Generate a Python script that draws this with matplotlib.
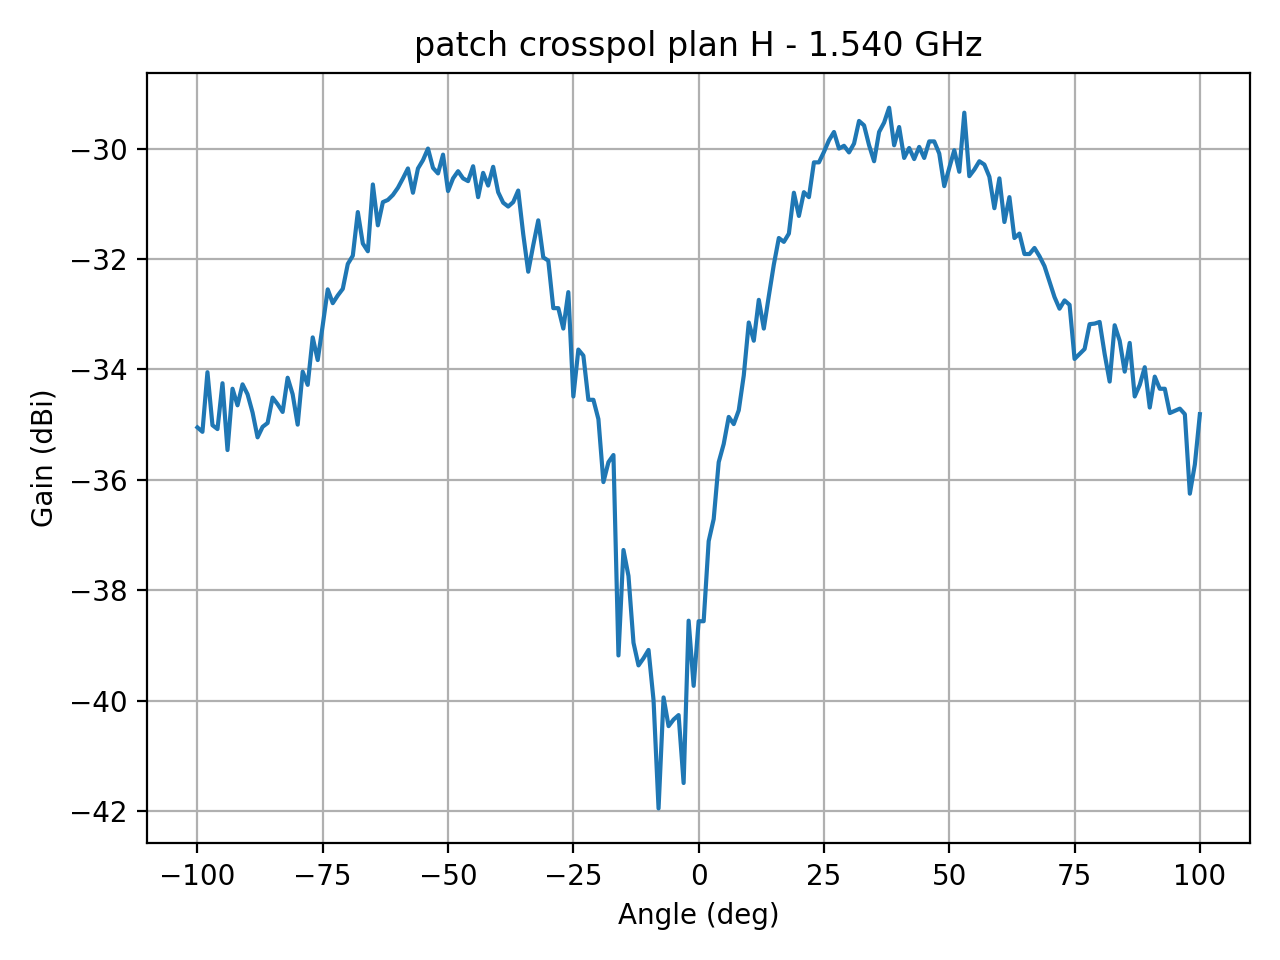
import numpy as np
import matplotlib
matplotlib.use("Agg")
import matplotlib.pyplot as plt

# angles en degres, pas de 1 deg
angle = list(range(-100, 101))

gain = [
    -35.05, -35.13, -34.05, -35.01, -35.08, -34.25, -35.46, -34.35, -34.65, -34.27,  # -100..-91
    -34.45, -34.78, -35.23, -35.04, -34.97, -34.51, -34.63, -34.77, -34.15, -34.45,  # -90..-81
    -35.00, -34.04, -34.28, -33.42, -33.83, -33.20, -32.55, -32.80, -32.66, -32.54,  # -80..-71
    -32.09, -31.94, -31.15, -31.72, -31.86, -30.65, -31.39, -30.97, -30.93, -30.84,  # -70..-61
    -30.71, -30.54, -30.36, -30.80, -30.36, -30.21, -30.00, -30.35, -30.45, -30.11,  # -60..-51
    -30.77, -30.54, -30.41, -30.54, -30.59, -30.32, -30.88, -30.44, -30.67, -30.33,  # -50..-41
    -30.79, -30.98, -31.05, -30.97, -30.76, -31.55, -32.23, -31.75, -31.30, -31.97,  # -40..-31
    -32.03, -32.89, -32.89, -33.26, -32.60, -34.49, -33.64, -33.75, -34.55, -34.55,  # -30..-21
    -34.90, -36.04, -35.68, -35.55, -39.18, -37.27, -37.74, -38.95, -39.36, -39.23,  # -20..-11
    -39.08, -39.99, -41.95, -39.94, -40.46, -40.34, -40.26, -41.49, -38.55, -39.73,  # -10..-1
    -38.56,                                                                          # 0
    -38.56, -37.11, -36.71, -35.68, -35.35, -34.86, -34.99, -34.74, -34.11, -33.15,  # 1..10
    -33.48, -32.74, -33.26, -32.67, -32.10, -31.62, -31.69, -31.54, -30.80, -31.22,  # 11..20
    -30.79, -30.88, -30.25, -30.25, -30.06, -29.85, -29.70, -30.00, -29.95, -30.07,  # 21..30
    -29.91, -29.50, -29.58, -29.94, -30.23, -29.70, -29.53, -29.26, -29.94, -29.61,  # 31..40
    -30.17, -29.99, -30.19, -29.97, -30.17, -29.87, -29.87, -30.09, -30.68, -30.35,  # 41..50
    -30.03, -30.42, -29.35, -30.50, -30.38, -30.23, -30.29, -30.51, -31.08, -30.54,  # 51..60
    -31.33, -30.88, -31.62, -31.54, -31.91, -31.91, -31.80, -31.95, -32.13, -32.41,  # 61..70
    -32.69, -32.90, -32.75, -32.83, -33.81, -33.72, -33.63, -33.18, -33.17, -33.14,  # 71..80
    -33.72, -34.22, -33.20, -33.48, -34.04, -33.52, -34.49, -34.28, -33.96, -34.69,  # 81..90
    -34.13, -34.35, -34.35, -34.79, -34.75, -34.71, -34.81, -36.25, -35.72, -34.81,  # 91..100
]

freq_ghz = 1.540

fig, ax = plt.subplots(figsize=(6.4, 4.8), dpi=200)
ax.plot(angle, gain)
ax.set_title(f"patch crosspol plan H - {freq_ghz:.3f} GHz")
ax.set_xlabel("Angle (deg)")
ax.set_ylabel("Gain (dBi)")
ax.grid(True)
fig.tight_layout()
fig.savefig("out.png")
